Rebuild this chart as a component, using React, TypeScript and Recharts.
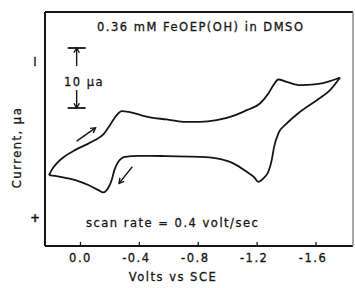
import React from 'react';
import { LineChart, Line, XAxis, YAxis, ReferenceLine } from 'recharts';

// Forward (cathodic) scan: upper branch, from +0.21 V to -1.76 V
const forwardVolts = [0.214, 0.196, 0.151, 0.105, 0.037, -0.031, -0.099, -0.155, -0.2, -0.246, -0.28, -0.325, -0.393, -0.472, -0.586, -0.698, -0.812, -0.925, -1.038, -1.129, -1.219, -1.276, -1.31, -1.344, -1.401, -1.491, -1.605, -1.695, -1.763];
const forwardCurrent = [-1.18, -0.35, 1.03, 1.98, 2.98, 3.81, 4.65, 5.59, 7.14, 8.81, 9.47, 9.36, 8.92, 8.44, 8.09, 7.69, 7.69, 7.97, 8.69, 9.64, 10.75, 12.42, 13.8, 14.75, 14.35, 13.8, 13.97, 14.47, 15.08];

// Reverse (anodic) scan: lower branch, listed from +0.21 V to -1.76 V
const reverseVolts = [0.214, 0.173, 0.105, 0.015, -0.053, -0.121, -0.155, -0.189, -0.212, -0.23, -0.257, -0.302, -0.393, -0.472, -0.586, -0.812, -0.925, -1.038, -1.129, -1.179, -1.208, -1.242, -1.276, -1.299, -1.315, -1.344, -1.401, -1.491, -1.605, -1.695, -1.763];
const reverseCurrent = [-1.18, -1.3, -1.63, -2.18, -2.84, -3.68, -4.06, -3.29, -2.01, -0.35, 1.03, 1.87, 2.03, 2.03, 1.98, 1.87, 1.6, 0.77, -0.63, -1.51, -2.3, -1.73, -0.63, 1.32, 3.53, 5.76, 7.42, 9.36, 11.3, 12.97, 15.08];

const xTicks = [0, -0.4, -0.8, -1.2, -1.6];
const xTickLabels = ['0.0', '-0.4', '-0.8', '-1.2', '-1.6'];
const yTicks = [17.6, -8.3];
const yTickLabels = ['I', '+'];

const xDomain: [number, number] = [-1.851, 0.241];
const yDomain: [number, number] = [-13, 26];

const title = '0.36 mM FeOEP(OH) in DMSO';
const scanNote = 'scan rate = 0.4 volt/sec';
const scaleLabel = '10 \u03bca';
const xLabel = 'Volts vs SCE';
const yLabel = 'Current, \u03bca';

const forward = forwardVolts.map((v, k) => ({ v, i: forwardCurrent[k] }));
const reverse = reverseVolts.map((v, k) => ({ v, i: reverseCurrent[k] }));

const FONT = '"DejaVu Sans", Verdana, sans-serif';
const INK = '#161616';
const FS = 11.5;
const LS = 1.5;

const XTick = (props: any) => {
  const { x, y, payload } = props;
  const idx = xTicks.indexOf(payload.value);
  const label = idx >= 0 ? xTickLabels[idx] : String(payload.value);
  const neg = label.startsWith('-');
  return (
    <g>
      <line x1={x} y1={y} x2={x} y2={y - 4} stroke={INK} strokeWidth={1.3} />
      <text x={neg ? x - 3 : x} y={y + 16} textAnchor="middle" fontFamily={FONT} fontSize={FS} letterSpacing={LS} fill={INK} stroke={INK} strokeWidth={0.3}>
        {label}
      </text>
    </g>
  );
};

const YTick = (props: any) => {
  const { y, payload } = props;
  const idx = yTicks.indexOf(payload.value);
  const label = idx >= 0 ? yTickLabels[idx] : String(payload.value);
  return (
    <text x={35} y={y + 4} textAnchor="middle" fontFamily={FONT} fontSize={FS} fontWeight={label === '+' ? 'bold' : 'normal'} fill={INK} stroke={INK} strokeWidth={0.3}>
      {label}
    </text>
  );
};

const ArrowShape = (p: any) => {
  const { x1, y1, x2, y2 } = p;
  const ang = Math.atan2(y2 - y1, x2 - x1);
  const L = 5.5;
  const s = Math.PI / 6;
  const a1 = ang + Math.PI - s;
  const a2 = ang + Math.PI + s;
  return (
    <g>
      <line x1={x1} y1={y1} x2={x2} y2={y2} stroke={INK} strokeWidth={1.4} />
      <polyline
        points={`${x2 + L * Math.cos(a1)},${y2 + L * Math.sin(a1)} ${x2},${y2} ${x2 + L * Math.cos(a2)},${y2 + L * Math.sin(a2)}`}
        fill="none"
        stroke={INK}
        strokeWidth={1.4}
      />
    </g>
  );
};

const txt = { fontFamily: FONT, fontSize: FS, letterSpacing: LS, fill: INK, stroke: INK, strokeWidth: 0.3 } as const;

export default function App() {
  return (
    <div style={{ position: 'absolute', left: 0, top: 0, width: 355, height: 288, background: '#fff' }}>
      <LineChart width={355} height={288} margin={{ top: 12, right: 2, bottom: 0, left: 0 }}>
        <XAxis
          type="number"
          dataKey="v"
          domain={xDomain}
          reversed
          ticks={xTicks}
          interval={0}
          tick={<XTick />}
          tickLine={false}
          axisLine={false}
          tickSize={0}
          tickMargin={0}
          height={42}
          allowDataOverflow
        />
        <YAxis
          type="number"
          dataKey="i"
          domain={yDomain}
          ticks={yTicks}
          interval={0}
          tick={<YTick />}
          tickLine={false}
          axisLine={false}
          tickSize={0}
          tickMargin={0}
          width={45}
          allowDataOverflow
        />
        {/* frame */}
        <ReferenceLine y={yDomain[1]} stroke={INK} strokeWidth={2} ifOverflow="visible" />
        <ReferenceLine y={yDomain[0]} stroke={INK} strokeWidth={2} ifOverflow="visible" />
        <ReferenceLine x={xDomain[1]} stroke={INK} strokeWidth={2} ifOverflow="visible" />
        <ReferenceLine x={xDomain[0]} stroke="#8a8a8a" strokeWidth={1.5} ifOverflow="visible" />
        {/* 10 uA scale bar */}
        <ReferenceLine segment={[{ x: 0.087, y: 20 }, { x: -0.035, y: 20 }]} stroke={INK} strokeWidth={1.8} />
        <ReferenceLine segment={[{ x: 0.087, y: 10 }, { x: -0.035, y: 10 }]} stroke={INK} strokeWidth={1.8} />
        <ReferenceLine segment={[{ x: 0.026, y: 17 }, { x: 0.026, y: 20 }]} shape={ArrowShape} />
        <ReferenceLine segment={[{ x: 0.026, y: 13 }, { x: 0.026, y: 10 }]} shape={ArrowShape} />
        {/* scan direction arrows */}
        <ReferenceLine segment={[{ x: 0.026, y: 4.48 }, { x: -0.102, y: 6.69 }]} shape={ArrowShape} />
        <ReferenceLine segment={[{ x: -0.352, y: 0.2 }, { x: -0.262, y: -2.56 }]} shape={ArrowShape} />
        <Line data={forward} dataKey="i" type="monotone" stroke={INK} strokeWidth={1.8} dot={false} activeDot={false} isAnimationActive={false} />
        <Line data={reverse} dataKey="i" type="monotone" stroke={INK} strokeWidth={1.8} dot={false} activeDot={false} isAnimationActive={false} />
      </LineChart>
      <svg width={355} height={288} style={{ position: 'absolute', left: 0, top: 0, pointerEvents: 'none' }}>
        <text x={97} y={31} {...txt}>{title}</text>
        <text x={86} y={227} {...txt}>{scanNote}</text>
        <text x={64} y={86} {...txt}>{scaleLabel}</text>
        <text x={173} y={281} textAnchor="middle" {...txt}>{xLabel}</text>
        <text x={21} y={147.5} textAnchor="middle" {...txt} transform="rotate(-90 21 147.5)">{yLabel}</text>
      </svg>
    </div>
  );
}
